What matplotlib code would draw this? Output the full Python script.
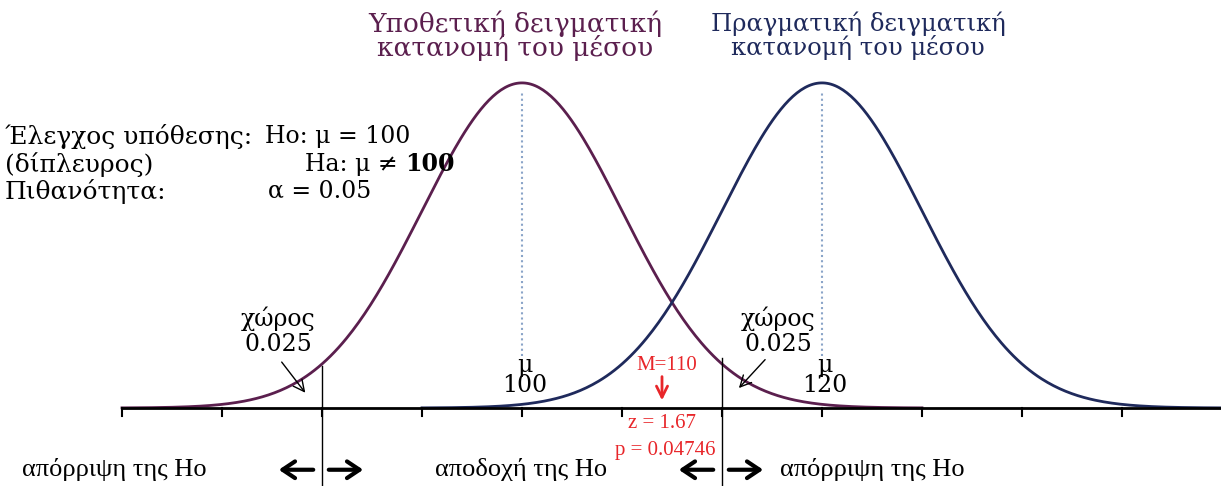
import numpy as np
import matplotlib
matplotlib.use('Agg')
from matplotlib import pyplot as plt

# positions along the axis are in standard-error units (null mean at 0)
curve_centers = [0, 3]
curve_labels = ['100', '120']
curve_colors = ['#5b1f4e', '#1f2a5c']
curve_titles = ['Υποθετική δειγματική\nκατανομή του μέσου',
                'Πραγματική δειγματική\nκατανομή του μέσου']
tick_positions = list(range(-4, 7))
crit_positions = [-2, 2]
tail_area = '0.025'
sample_pos = 1.4
sample_text = 'M=110'
z_text = 'z = 1.67'
p_text = 'p = 0.04746'

wide = ['DejaVu Serif']
narrow = ['Liberation Serif', 'DejaVu Serif']
plt.rcParams['font.family'] = wide

fig = plt.figure(figsize=(12.21, 4.86), dpi=100)
ax = fig.add_axes([0, 0, 1, 1])
ax.set_xlim(-5.22, 6.99)
ax.set_ylim(-0.24, 1.255)
ax.axis('off')

# the two sampling distributions
for c, col in zip(curve_centers, curve_colors):
    x = np.linspace(c - 4, c + 4, 400)
    ax.plot(x, np.exp(-0.5 * (x - c) ** 2), color=col, lw=2)
    ax.plot([c, c], [0.16, 0.97], color='#8aa4c8', lw=1.5, ls=(0, (1, 1.5)))

# axis line with ticks
ax.plot([-4, 6.99], [0, 0], color='black', lw=2)
for t in tick_positions:
    ax.plot([t, t], [0, -0.025], color='black', lw=1.5)

# critical lines
ax.plot([crit_positions[0]] * 2, [0.13, -0.24], color='black', lw=1)
ax.plot([crit_positions[1]] * 2, [0.155, -0.24], color='black', lw=1)

# titles above curves
ax.text(curve_centers[0] - 0.07, 1.145, curve_titles[0], ha='center',
        va='center', fontsize=19, color=curve_colors[0], linespacing=0.9)
ax.text(curve_centers[1] + 0.36, 1.145, curve_titles[1], ha='center',
        va='center', fontsize=17.5, color=curve_colors[1], linespacing=0.98)

# hypothesis block
fs = 17
ax.text(-5.17, 0.835, 'Έλεγχος υπόθεσης:', fontsize=18, va='center')
ax.text(-2.57, 0.835, 'Ho: μ = 100', fontsize=fs, va='center')
ax.text(-5.17, 0.75, '(δίπλευρος)', fontsize=18, va='center')
ax.text(-1.17, 0.75, 'Ha: μ ≠ ', fontsize=fs, va='center', ha='right')
ax.text(-1.17, 0.75, '100', fontsize=fs, va='center', ha='left',
        fontweight='bold')
ax.text(-5.17, 0.667, 'Πιθανότητα:', fontsize=18, va='center')
ax.text(-2.54, 0.667, 'α = 0.05', fontsize=fs, va='center')

# tail area labels
ax.text(-2.44, 0.237, 'χώρος\n' + tail_area, ha='center', va='center',
        fontsize=17, linespacing=1.1)
ax.annotate('', xy=(-2.15, 0.04), xytext=(-2.42, 0.148),
            arrowprops=dict(arrowstyle='->', lw=1, color='black',
                            mutation_scale=20))
ax.text(2.56, 0.237, 'χώρος\n' + tail_area, ha='center', va='center',
        fontsize=17, linespacing=1.1)
ax.annotate('', xy=(2.15, 0.055), xytext=(2.45, 0.155),
            arrowprops=dict(arrowstyle='->', lw=1, color='black',
                            mutation_scale=20))

# mean labels
for c, lab in zip(curve_centers, curve_labels):
    ax.text(c + 0.03, 0.1, 'μ\n' + lab, ha='center', va='center',
            fontsize=17, linespacing=0.85)

# sample mean
ax.text(sample_pos + 0.05, 0.13, sample_text, ha='center', va='center',
        fontsize=15, color='#e8262a', family=narrow)
ax.annotate('', xy=(sample_pos, 0.015), xytext=(sample_pos, 0.105),
            arrowprops=dict(arrowstyle='->', lw=2, color='#e8262a',
                            mutation_scale=20))
ax.text(sample_pos, -0.047, z_text, ha='center', va='center', fontsize=15,
        color='#e8262a', family=narrow)
ax.text(sample_pos + 0.03, -0.13, p_text, ha='center', va='center',
        fontsize=15, color='#e8262a', family=narrow)

# decision regions
by = -0.19
ax.text(-5.0, by, 'απόρριψη της Ho', fontsize=19, va='center', family=narrow)
ax.text(-0.87, by, 'αποδοχή της Ho', fontsize=19, va='center', family=narrow)
ax.text(2.58, by, 'απόρριψη της Ho', fontsize=19, va='center', family=narrow)
arrow_kw = dict(arrowstyle='->, head_length=0.45, head_width=0.3', lw=3,
                color='black', mutation_scale=20)
for cp in crit_positions:
    ax.annotate('', xy=(cp - 0.46, by), xytext=(cp - 0.06, by),
                arrowprops=arrow_kw)
    ax.annotate('', xy=(cp + 0.44, by), xytext=(cp + 0.04, by),
                arrowprops=arrow_kw)

fig.savefig('out.png', dpi=100)
